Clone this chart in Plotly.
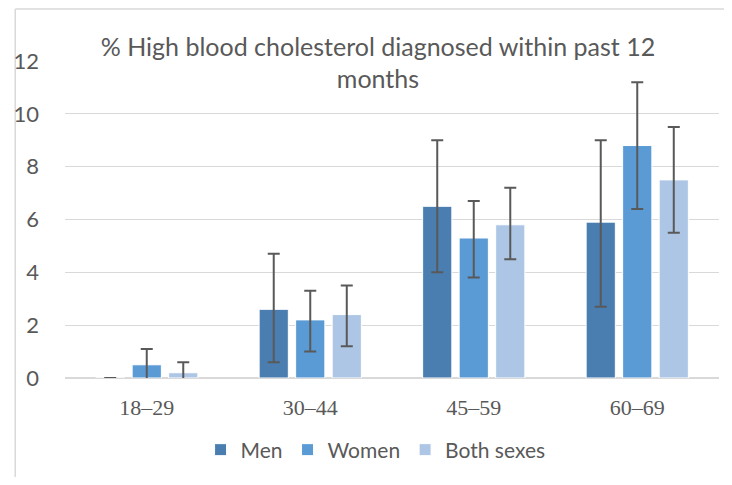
import plotly.graph_objects as go

age_groups = ["18–29", "30–44", "45–59", "60–69"]

men = [0, 2.6, 6.5, 5.9]
men_low = [None, 0.6, 4.0, 2.7]
men_high = [None, 4.7, 9.0, 9.0]

women = [0.5, 2.2, 5.3, 8.8]
women_low = [-0.1, 1.0, 3.8, 6.4]
women_high = [1.1, 3.3, 6.7, 11.2]

both = [0.2, 2.4, 5.8, 7.5]
both_low = [-0.1, 1.2, 4.5, 5.5]
both_high = [0.6, 3.5, 7.2, 9.5]

series = [
    ("Men", men, men_low, men_high, "#4a7eb0"),
    ("Women", women, women_low, women_high, "#5b9bd5"),
    ("Both sexes", both, both_low, both_high, "#adc6e5"),
]

fig = go.Figure()
for name, vals, low, high, color in series:
    # no interval drawn where bounds are missing
    plus = [None if h is None else h - v for v, h in zip(vals, high)]
    minus = [None if l is None else v - l for v, l in zip(vals, low)]
    fig.add_trace(go.Bar(
        name=name,
        x=age_groups,
        y=vals,
        marker=dict(color=color, line=dict(color="white", width=1)),
        error_y=dict(
            type="data", symmetric=False,
            array=plus, arrayminus=minus,
            color="#595959", thickness=2, width=6,
        ),
    ))

# page body has an 8px margin; keep the figure inside the window
W, H = 716, 469
L, R, T, B = 54, 5, 53, 99
plot_w, plot_h = W - L - R, H - T - B

# chart frame: only its top and left edges fall inside the picture
frame_x = (4 - L) / plot_w
frame_y = (plot_h + T - 1) / plot_h
frame = dict(color="#d9d9d9", width=1.5)

fig.update_layout(
    width=W, height=H,
    margin=dict(l=L, r=R, t=T, b=B),
    paper_bgcolor="white",
    plot_bgcolor="white",
    barmode="group",
    bargap=0.33,
    bargroupgap=0.2,
    font=dict(family="Lato", color="#595959", size=22),
    title=dict(
        text="% High blood cholesterol diagnosed within past 12<br>months",
        font=dict(family="Lato", size=25, color="#595959"),
        x=370 / W, xanchor="center",
        y=1 - 47.5 / H, yanchor="middle",
    ),
    legend=dict(
        orientation="h",
        x=(366 - L) / plot_w, xanchor="center",
        y=-72 / plot_h, yanchor="middle",
        font=dict(family="Lato", size=21, color="#595959"),
        itemwidth=30,
        traceorder="normal",
    ),
    showlegend=True,
    shapes=[
        dict(type="line", xref="paper", yref="paper",
             x0=frame_x, x1=1 + R / plot_w, y0=frame_y, y1=frame_y,
             line=frame, layer="below"),
        dict(type="line", xref="paper", yref="paper",
             x0=frame_x, x1=frame_x, y0=-B / plot_h, y1=frame_y,
             line=frame, layer="below"),
    ],
)

fig.update_xaxes(
    showgrid=False, showline=False, ticks="",
    tickfont=dict(family="Liberation Serif", size=22, color="#595959"),
    ticklabelstandoff=14,
)
fig.update_yaxes(
    range=[0, 12], dtick=2,
    showgrid=True, gridcolor="#d9d9d9", gridwidth=1.3,
    zeroline=True, zerolinecolor="#d9d9d9", zerolinewidth=1.5,
    ticks="", ticklabelstandoff=25,
    tickfont=dict(family="Lato", size=22, color="#595959"),
)

fig.write_html("out.html")
